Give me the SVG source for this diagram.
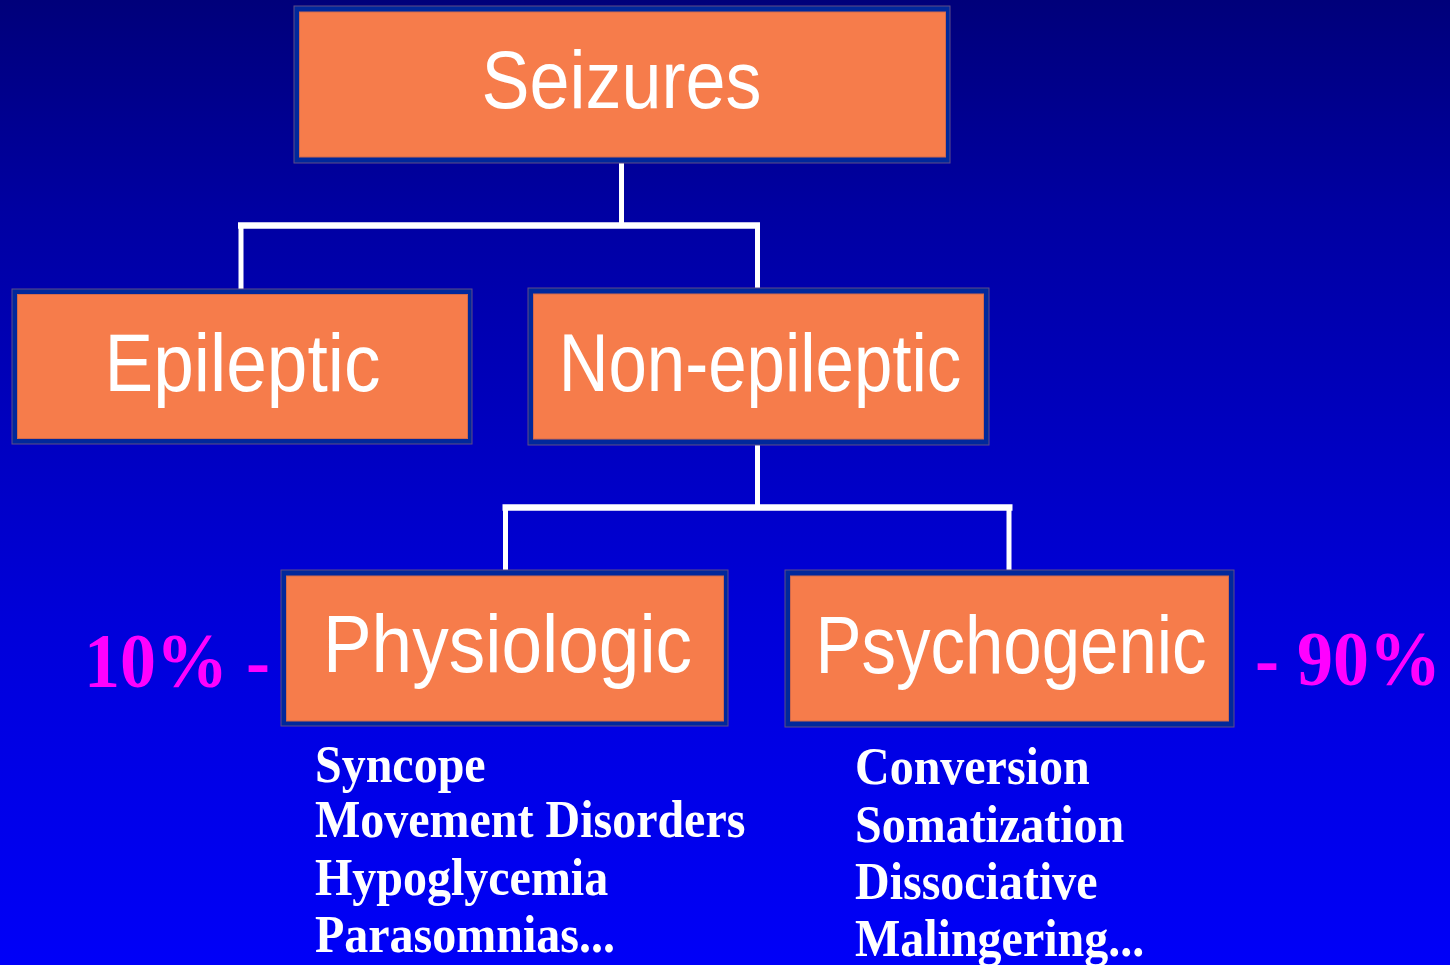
<svg xmlns="http://www.w3.org/2000/svg" width="1450" height="965" viewBox="0 0 1450 965">
  <defs>
    <linearGradient id="bg" x1="0" y1="0" x2="0" y2="1">
      <stop offset="0" stop-color="#00007A"/>
      <stop offset="0.22" stop-color="#0000A2"/>
      <stop offset="0.65" stop-color="#0000DA"/>
      <stop offset="1" stop-color="#0000F8"/>
    </linearGradient>
  </defs>
  <style>
    .frame { fill: #00289C; stroke: #5E4C86; stroke-width: 1; }
    .face { fill: #F67C4B; stroke: #D06A4E; stroke-width: 1; }
    .lbl { font-family: "Liberation Sans", Arial, sans-serif; fill: #FFFFFF; text-anchor: middle; }
    .item { font-family: "Liberation Serif", "Times New Roman", serif; font-weight: bold; font-size: 48px; fill: #FFFFFF; }
    .pct { font-family: "Liberation Serif", "Times New Roman", serif; font-weight: bold; font-size: 72px; fill: #FF00FF; }
    .h { stroke: #FFFFFF; stroke-width: 6.5; fill: none; }
    .v { stroke: #FFFFFF; stroke-width: 5; fill: none; }
  </style>
  <rect x="0" y="0" width="1450" height="965" fill="url(#bg)"/>

  <g id="connectors">
    <line class="v" x1="621.5" y1="163" x2="621.5" y2="224"/>
    <line class="h" x1="238" y1="225.5" x2="760" y2="225.5"/>
    <line class="v" x1="241" y1="225" x2="241" y2="289"/>
    <line class="v" x1="757.5" y1="225" x2="757.5" y2="288"/>
    <line class="v" x1="757.5" y1="445" x2="757.5" y2="506"/>
    <line class="h" x1="502.5" y1="507.5" x2="1012.5" y2="507.5"/>
    <line class="v" x1="505.5" y1="507" x2="505.5" y2="570"/>
    <line class="v" x1="1009" y1="507" x2="1009" y2="570"/>
  </g>

  <g id="seizures">
    <rect class="frame" x="294" y="6" width="656" height="157"/>
    <rect class="face" x="299.5" y="12" width="646" height="145"/>
    <text class="lbl" font-size="72" transform="translate(621.5,108) scale(1,1.12)">Seizures</text>
  </g>

  <g id="epileptic">
    <rect class="frame" x="12" y="289" width="460" height="155"/>
    <rect class="face" x="17.5" y="294.5" width="450" height="144"/>
    <text class="lbl" font-size="73" transform="translate(242.5,391) scale(1,1.12)">Epileptic</text>
  </g>

  <g id="non-epileptic">
    <rect class="frame" x="528" y="288" width="461" height="157"/>
    <rect class="face" x="533.5" y="294" width="450" height="145"/>
    <text class="lbl" font-size="69" transform="translate(760,391) scale(1,1.17)">Non-epileptic</text>
  </g>

  <g id="physiologic">
    <rect class="frame" x="281" y="570" width="447" height="156"/>
    <rect class="face" x="286.5" y="576" width="437" height="145"/>
    <text class="lbl" font-size="73" transform="translate(507.5,672) scale(1,1.12)">Physiologic</text>
  </g>

  <g id="psychogenic">
    <rect class="frame" x="785" y="570" width="449" height="157"/>
    <rect class="face" x="790.5" y="576" width="438" height="145"/>
    <text class="lbl" font-size="69" transform="translate(1011,673) scale(1,1.17)">Psychogenic</text>
  </g>

  <g id="percent-left">
    <text class="pct" transform="translate(84,687) scale(1,1.1)">10% -</text>
  </g>
  <g id="percent-right">
    <text class="pct" transform="translate(1255,685) scale(1,1.1)">- 90%</text>
  </g>

  <g id="physiologic-list">
    <text class="item" transform="translate(315,782) scale(1,1.1)">Syncope</text>
    <text class="item" transform="translate(315,837) scale(1,1.1)">Movement Disorders</text>
    <text class="item" transform="translate(315,895) scale(1,1.1)">Hypoglycemia</text>
    <text class="item" transform="translate(315,952) scale(1,1.1)">Parasomnias...</text>
  </g>

  <g id="psychogenic-list">
    <text class="item" transform="translate(855,784) scale(1,1.1)">Conversion</text>
    <text class="item" transform="translate(855,842) scale(1,1.1)">Somatization</text>
    <text class="item" transform="translate(855,899) scale(1,1.1)">Dissociative</text>
    <text class="item" transform="translate(855,956) scale(1,1.1)">Malingering...</text>
  </g>
</svg>
